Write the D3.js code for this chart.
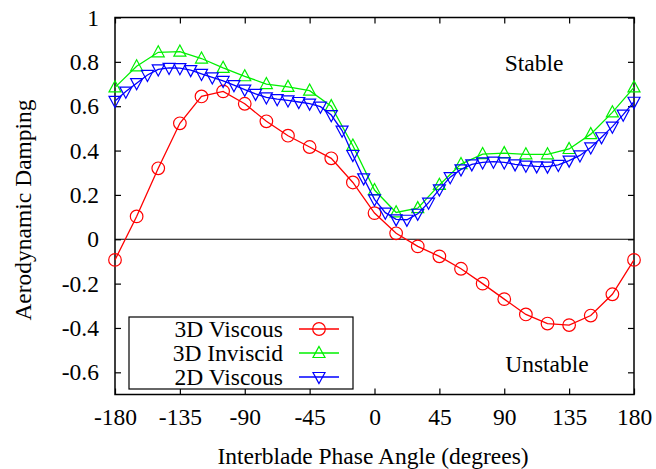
<!DOCTYPE html>
<html><head><meta charset="utf-8">
<script src="https://cdn.jsdelivr.net/npm/d3@7"></script>
<style>body{margin:0;background:#fff;} text{font-family:"Liberation Serif","Times New Roman",serif;}</style>
</head><body>
<svg id="c" width="656" height="469"></svg>
<script>
// ---- data ----
const anglesCoarse = [-180,-165,-150,-135,-120,-105,-90,-75,-60,-45,-30,-15,0,15,30,45,60,75,90,105,120,135,150,165,180];
const viscous3D = [-0.093,0.103,0.32,0.523,0.644,0.667,0.611,0.532,0.467,0.416,0.365,0.256,0.118,0.027,-0.032,-0.077,-0.133,-0.2,-0.27,-0.339,-0.38,-0.387,-0.344,-0.248,-0.093];
const inviscid3D = [0.685,0.78,0.843,0.846,0.815,0.773,0.735,0.70,0.687,0.67,0.60,0.422,0.222,0.121,0.14,0.245,0.339,0.384,0.388,0.383,0.383,0.407,0.474,0.572,0.685];
const anglesFine = [-180,-172.5,-165,-157.5,-150,-142.5,-135,-127.5,-120,-112.5,-105,-97.5,-90,-82.5,-75,-67.5,-60,-52.5,-45,-37.5,-30,-22.5,-15,-7.5,0,7.5,15,22.5,30,37.5,45,52.5,60,67.5,75,82.5,90,97.5,105,112.5,120,127.5,135,142.5,150,157.5,165,172.5,180];
const viscous2D = [0.624,0.666,0.704,0.741,0.766,0.773,0.772,0.763,0.746,0.730,0.714,0.695,0.675,0.656,0.640,0.632,0.626,0.619,0.612,0.598,0.56,0.49,0.38,0.275,0.18,0.12,0.09,0.088,0.115,0.165,0.225,0.28,0.315,0.338,0.347,0.35,0.347,0.338,0.332,0.329,0.328,0.335,0.355,0.378,0.414,0.46,0.508,0.562,0.62];
const xTicks = [-180,-135,-90,-45,0,45,90,135,180];
const yTicks = [1,0.8,0.6,0.4,0.2,0,-0.2,-0.4,-0.6];
const yTickLabels = ["1","0.8","0.6","0.4","0.2","0","-0.2","-0.4","-0.6"];
const seriesNames = ["3D Viscous","3D Inviscid","2D Viscous"];

const FS = 23.5;
const svg = d3.select("#c");
const L=115, R=634, T=17.5, B=394.5;
const x = d3.scaleLinear().domain([-180,180]).range([L,R]);
const y = d3.scaleLinear().domain([-0.7,1]).range([B,T]);

// zero line
svg.append("line").attr("x1",L).attr("x2",R).attr("y1",y(0)).attr("y2",y(0)).attr("stroke","#000").attr("stroke-width",1.2);

function styleAxis(g){ g.select(".domain").remove(); g.selectAll("line").attr("stroke","#000").attr("stroke-width",1.2); g.selectAll("text").attr("font-size",FS).attr("font-family","Liberation Serif").attr("fill","#000"); }
const yLabMap = new Map(yTicks.map((v,i)=>[v,yTickLabels[i]]));
svg.append("g").attr("transform",`translate(0,${B})`).call(d3.axisBottom(x).tickValues(xTicks).tickSizeInner(-6).tickSizeOuter(0).tickPadding(14).tickFormat(d=>String(d))).call(styleAxis);
svg.append("g").attr("transform",`translate(0,${T})`).call(d3.axisTop(x).tickValues(xTicks).tickSizeInner(-6).tickSizeOuter(0).tickFormat("")).call(styleAxis);
svg.append("g").attr("transform",`translate(${L},0)`).call(d3.axisLeft(y).tickValues(yTicks).tickSizeInner(-6).tickSizeOuter(0).tickPadding(16).tickFormat(d=>yLabMap.get(d))).call(styleAxis);
svg.append("g").attr("transform",`translate(${R},0)`).call(d3.axisRight(y).tickValues(yTicks).tickSizeInner(-6).tickSizeOuter(0).tickFormat("")).call(styleAxis);

svg.append("rect").attr("x",L).attr("y",T).attr("width",R-L).attr("height",B-T).attr("fill","none").attr("stroke","#000").attr("stroke-width",1.5);

// markers
function marker(g, type, cx, cy, color){
  if(type==="circle"){
    g.append("circle").attr("cx",cx).attr("cy",cy).attr("r",6.3).attr("fill","none").attr("stroke",color).attr("stroke-width",1.2);
  } else {
    const s=6, sgn = type==="up"?1:-1;
    const pts=[[cx,cy-sgn*s*1.1],[cx-s,cy+sgn*s*0.75],[cx+s,cy+sgn*s*0.75]];
    g.append("path").attr("d","M"+pts.map(p=>p.join(",")).join("L")+"Z").attr("fill","none").attr("stroke",color).attr("stroke-width",1.2);
  }
}
const line = d3.line().x(d=>x(d[0])).y(d=>y(d[1]));
const series = [
  {name:seriesNames[0], xs:anglesCoarse, ys:viscous3D, color:"#ff0000", m:"circle"},
  {name:seriesNames[1], xs:anglesCoarse, ys:inviscid3D, color:"#00f000", m:"up"},
  {name:seriesNames[2], xs:anglesFine, ys:viscous2D, color:"#0000ff", m:"down"}
];
series.forEach(s=>{
  const pts = s.xs.map((a,i)=>[a,s.ys[i]]);
  const g = svg.append("g");
  g.append("path").attr("d",line(pts)).attr("fill","none").attr("stroke",s.color).attr("stroke-width",1.3);
  pts.forEach(p=>marker(g,s.m,x(p[0]),y(p[1]),s.color));
});

// legend
const lg = svg.append("g");
lg.append("rect").attr("x",129).attr("y",317).attr("width",224).attr("height",72).attr("fill","#fff").attr("stroke","#000").attr("stroke-width",1.2);
series.forEach((s,i)=>{
  const ry = 329 + i*24;
  lg.append("text").attr("x",283).attr("y",ry+7.5).attr("text-anchor","end").attr("font-size",FS).text(s.name);
  lg.append("line").attr("x1",299).attr("x2",339).attr("y1",ry).attr("y2",ry).attr("stroke",s.color).attr("stroke-width",1.3);
  marker(lg,s.m,319,ry,s.color);
});

// annotations & axis titles
svg.append("text").attr("x",534).attr("y",70.5).attr("text-anchor","middle").attr("font-size",FS).text("Stable");
svg.append("text").attr("x",547).attr("y",371.5).attr("text-anchor","middle").attr("font-size",FS).text("Unstable");
svg.append("text").attr("x",373).attr("y",463.5).attr("text-anchor","middle").attr("font-size",FS).text("Interblade Phase Angle (degrees)");
svg.append("text").attr("transform","translate(30.5,210) rotate(-90)").attr("text-anchor","middle").attr("font-size",FS).text("Aerodynamic Damping");
</script>
</body></html>
